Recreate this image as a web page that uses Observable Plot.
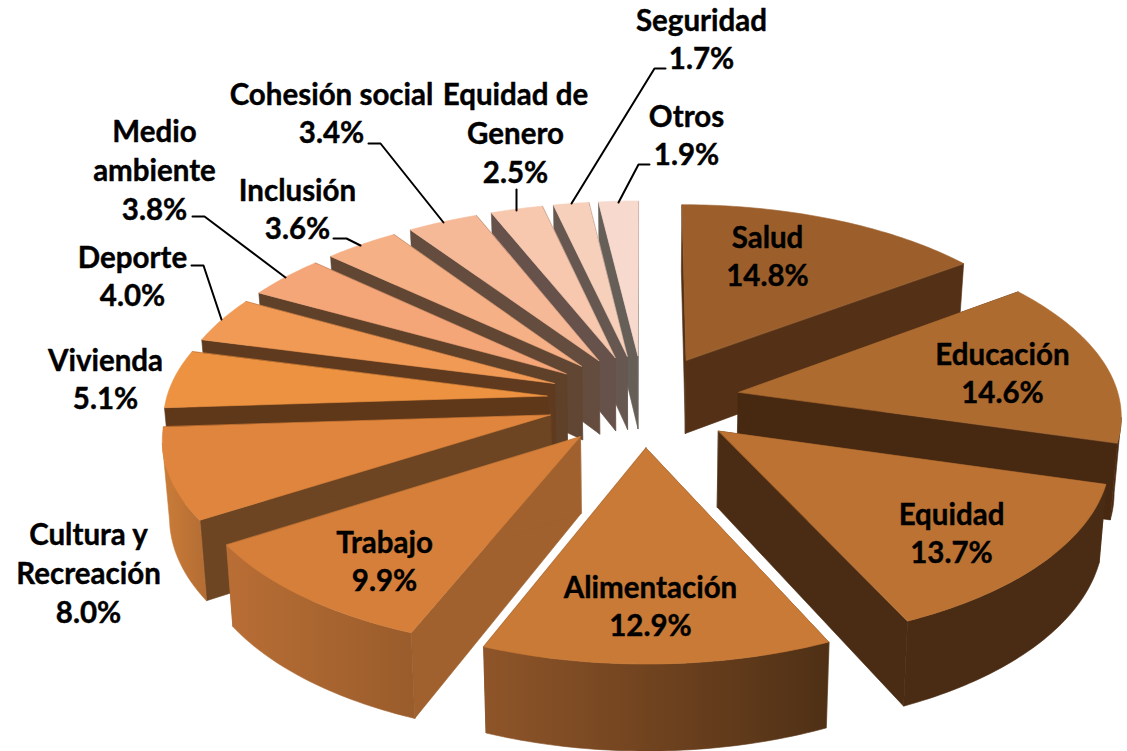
<!DOCTYPE html>
<html>
<head>
<meta charset="utf-8">
<script src="https://cdn.jsdelivr.net/npm/d3@7"></script>
<script src="https://cdn.jsdelivr.net/npm/@observablehq/plot@0.6"></script>
<style>
html,body{margin:0;padding:0;background:#fff}
svg{display:block}
</style>
</head>
<body>
<div id="chart"></div>
<script>
// Data
const categories = ["Salud","Educación","Equidad","Alimentación","Trabajo","Cultura y Recreación","Vivienda","Deporte","Medio ambiente","Inclusión","Cohesión social","Equidad de Genero","Seguridad","Otros"];
const shares = [14.8,14.6,13.7,12.9,9.9,8.0,5.1,4.0,3.8,3.6,3.4,2.5,1.7,1.9];
const labelNames = ["Salud","Educación","Equidad","Alimentación","Trabajo","Cultura y\nRecreación","Vivienda","Deporte","Medio\nambiente","Inclusión","Cohesión social","Equidad de\nGenero","Seguridad","Otros"];

// Styles
const topColors = ["#9C5F2C","#AD6B30","#BC7233","#C97A36","#D57F3A","#E0853D","#EC9241","#F19A56","#F4A679","#F5B086","#F6B998","#F7C8AE","#F7D0BB","#F8D9CE"];
const wallColors = ["#543116","#472811","#4A2B13","#6E4320","#A0612E","#6D4522","#5F3719","#5F3A1E","#5F4028","#614633","#644D3E","#66524A","#665850","#665F58"];
const rimStops = [["#543116","#543116"],["#4A2A12","#4A2A12"],["#4A2B13","#4A2B13"],["#8F5529","#4F3015"],["#B96E35","#995C2B"],["#CB7D39","#B36C33"],["#B06A30","#B06A30"],["#A06030","#A06030"],["#806040","#806040"],["#806040","#806040"],["#806050","#806050"],["#806050","#806050"],["#806050","#806050"],["#806050","#806050"]];

// Layout
const labelX = [767,1002,951,650,384,88,105,132,154,297,331,515,701,686];
const labelY = [254,371,531,604,559,571,377,274,168,207,111,131,37,133];
const leaders = [
  [[571,203],[654,68],[665,68]],
  [[618,202],[638,164],[649,164]],
  [[516,210],[516,189]],
  [[443,222],[380,143],[368,143]],
  [[360,245],[346,238],[333,238]],
  [[285,277],[204,216],[192,216]],
  [[221,319],[203,265],[191,265]]
];
const W = 1127, H = 751;
const cx = 643, cy = 400, Rx = 381, Ry = 181, persp = 0.11, explode = 0.255, depth = 75, shrink = 0.985;

// Perspective projection of the exploded disk; fraction of the way round comes from the values.
const project = (X, Y, low) => {
  const s = 1 / (1 + persp * Y);
  return {
    x: cx + Rx * X * s * (low ? shrink : 1),
    y: cy - Ry * Y * s + (low ? depth * s : 0)
  };
};
const total = d3.sum(shares);
let running = 0;
const slices = shares.map((v, i) => {
  const a0 = running / total * 2 * Math.PI;
  running += v;
  const a1 = running / total * 2 * Math.PI;
  return {i, a0, a1, mid: (a0 + a1) / 2};
});
const polys = [];
const add = (pts, fill) => polys.push({pts, fill});
const order = slices.slice().sort((a, b) => Math.cos(b.mid) - Math.cos(a.mid));
for (const sl of order) {
  const ox = explode * Math.sin(sl.mid), oy = explode * Math.cos(sl.mid);
  const n = Math.max(4, Math.ceil((sl.a1 - sl.a0) / (Math.PI / 180)));
  const angles = d3.range(n + 1).map(k => sl.a0 + (sl.a1 - sl.a0) * k / n);
  const rim = (a, low) => project(ox + Math.sin(a), oy + Math.cos(a), low);
  const apex = low => project(ox, oy, low);
  // cut walls
  add([apex(false), rim(sl.a0, false), rim(sl.a0, true), apex(true)], wallColors[sl.i]);
  add([apex(false), rim(sl.a1, false), rim(sl.a1, true), apex(true)], wallColors[sl.i]);
  // front-facing outer wall
  const facing = angles.filter(a => rim(a + 0.002, false).x < rim(a, false).x);
  if (facing.length > 1) {
    add([...facing.map(a => rim(a, false)), ...facing.slice().reverse().map(a => rim(a, true))], `url(#rim${sl.i})`);
  }
  // top face
  add([apex(false), ...angles.map(a => rim(a, false))], topColors[sl.i]);
}

const defs = () => {
  const d = d3.create("svg:defs");
  rimStops.forEach((s, i) => {
    const g = d.append("linearGradient").attr("id", `rim${i}`).attr("x1", 0).attr("x2", 1).attr("y1", 0).attr("y2", 0);
    g.append("stop").attr("offset", 0).attr("stop-color", s[0]);
    g.append("stop").attr("offset", 1).attr("stop-color", s[1]);
  });
  return d.node();
};

const labels = categories.map((c, i) => ({
  text: labelNames[i] + "\n" + shares[i].toFixed(1) + "%",
  x: labelX[i], y: labelY[i]
}));

const chart = Plot.plot({
  width: W, height: H,
  margin: 0,
  x: {domain: [0, W], range: [0, W], axis: null},
  y: {domain: [0, H], range: [0, H], axis: null},
  style: {background: "#fff"},
  marks: [
    defs,
    ...polys.map(p => Plot.line(p.pts, {x: "x", y: "y", fill: p.fill, stroke: p.fill, strokeWidth: 0.6, curve: "linear-closed"})),
    ...leaders.map(l => Plot.line(l, {x: d => d[0], y: d => d[1], stroke: "#000", strokeWidth: 2})),
    Plot.text(labels, {x: "x", y: "y", text: "text", fontFamily: "Lato", fontWeight: 700, fontSize: 29.5, lineHeight: 1.32, fill: "#000", stroke: "#000", strokeWidth: 0.4, textAnchor: "middle", lineAnchor: "middle"})
  ]
});
document.getElementById("chart").append(chart);
</script>
</body>
</html>
